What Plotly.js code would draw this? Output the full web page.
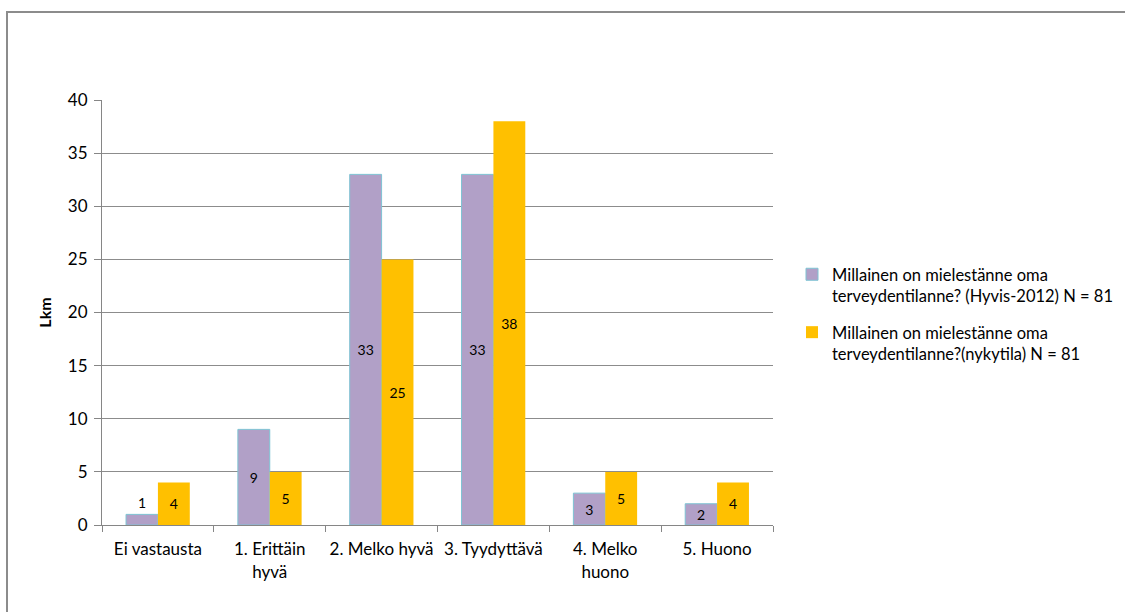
<!DOCTYPE html>
<html>
<head>
<meta charset="utf-8">
<script src="https://cdn.plot.ly/plotly-3.0.1.min.js"></script>
<style>
html,body{margin:0;padding:0;background:#fff;}
#chart{width:1125px;height:612px;position:relative;}
#frame{position:absolute;left:6px;top:11px;width:1200px;height:700px;border:2px solid #8c8c8c;pointer-events:none;}
</style>
</head>
<body>
<div id="chart"></div>
<div id="frame"></div>
<script>
const categories = ["Ei vastausta", "1. Erittäin<br>hyvä", "2. Melko hyvä", "3. Tyydyttävä", "4. Melko<br>huono", "5. Huono"];
const series1Name = "Millainen on mielestänne oma<br>terveydentilanne? (Hyvis-2012) N = 81";
const series2Name = "Millainen on mielestänne oma<br>terveydentilanne?(nykytila) N = 81";
const series1 = [1, 9, 33, 33, 3, 2];
const series2 = [4, 5, 25, 38, 5, 4];
const yTitle = "Lkm";

const font = "Lato, 'Open Sans', sans-serif";
const labelFont = {family: font, size: 14, color: "#000"};

const traces = [
  {type: "bar", name: series1Name, x: categories, y: series1,
   text: series1.map(String), textposition: "auto", constraintext: "none",
   insidetextanchor: "middle", textangle: 0,
   insidetextfont: labelFont, outsidetextfont: labelFont,
   marker: {color: "#B1A0C7", line: {color: "#7EC3D3", width: 1}},
   legendgroup: "a", hoverinfo: "y"},
  {type: "bar", name: series2Name, x: categories, y: series2,
   text: series2.map(String), textposition: "auto", constraintext: "none",
   insidetextanchor: "middle", textangle: 0,
   insidetextfont: labelFont, outsidetextfont: labelFont,
   marker: {color: "#FFC000", line: {width: 0}},
   legendgroup: "b", hoverinfo: "y"}
];

const layout = {
  width: 1125, height: 612,
  margin: {l: 102, r: 352, t: 100, b: 87, autoexpand: false},
  paper_bgcolor: "#fff", plot_bgcolor: "#fff",
  font: {family: font, size: 17, color: "#000"},
  barmode: "group", bargap: 0.43, bargroupgap: 0,
  showlegend: true,
  legend: {xref: "container", yref: "container", x: 0.704, y: 0.58,
           xanchor: "left", yanchor: "top", valign: "top",
           font: {family: font, size: 16.5, color: "#000"},
           tracegroupgap: 12, traceorder: "grouped", itemwidth: 30},
  xaxis: {type: "category", showline: true, linecolor: "#868686", linewidth: 1,
          ticks: "outside", tickson: "boundaries", ticklen: 6, tickcolor: "#868686",
          tickangle: 0, automargin: false, ticklabelstandoff: 9,
          showgrid: false, tickfont: {family: font, size: 17}, zeroline: false},
  yaxis: {range: [0, 40], dtick: 5, showline: true, linecolor: "#868686", linewidth: 1,
          ticks: "outside", ticklen: 7, tickcolor: "#868686", automargin: false,
          ticklabelstandoff: 3,
          showgrid: true, gridcolor: "#8c8c8c", gridwidth: 1, zeroline: false,
          tickfont: {family: font, size: 17},
          title: {text: "<b>" + yTitle + "</b>", font: {family: font, size: 16}, standoff: 12}}
};

Plotly.newPlot("chart", traces, layout, {displayModeBar: false, staticPlot: true});
</script>
</body>
</html>
